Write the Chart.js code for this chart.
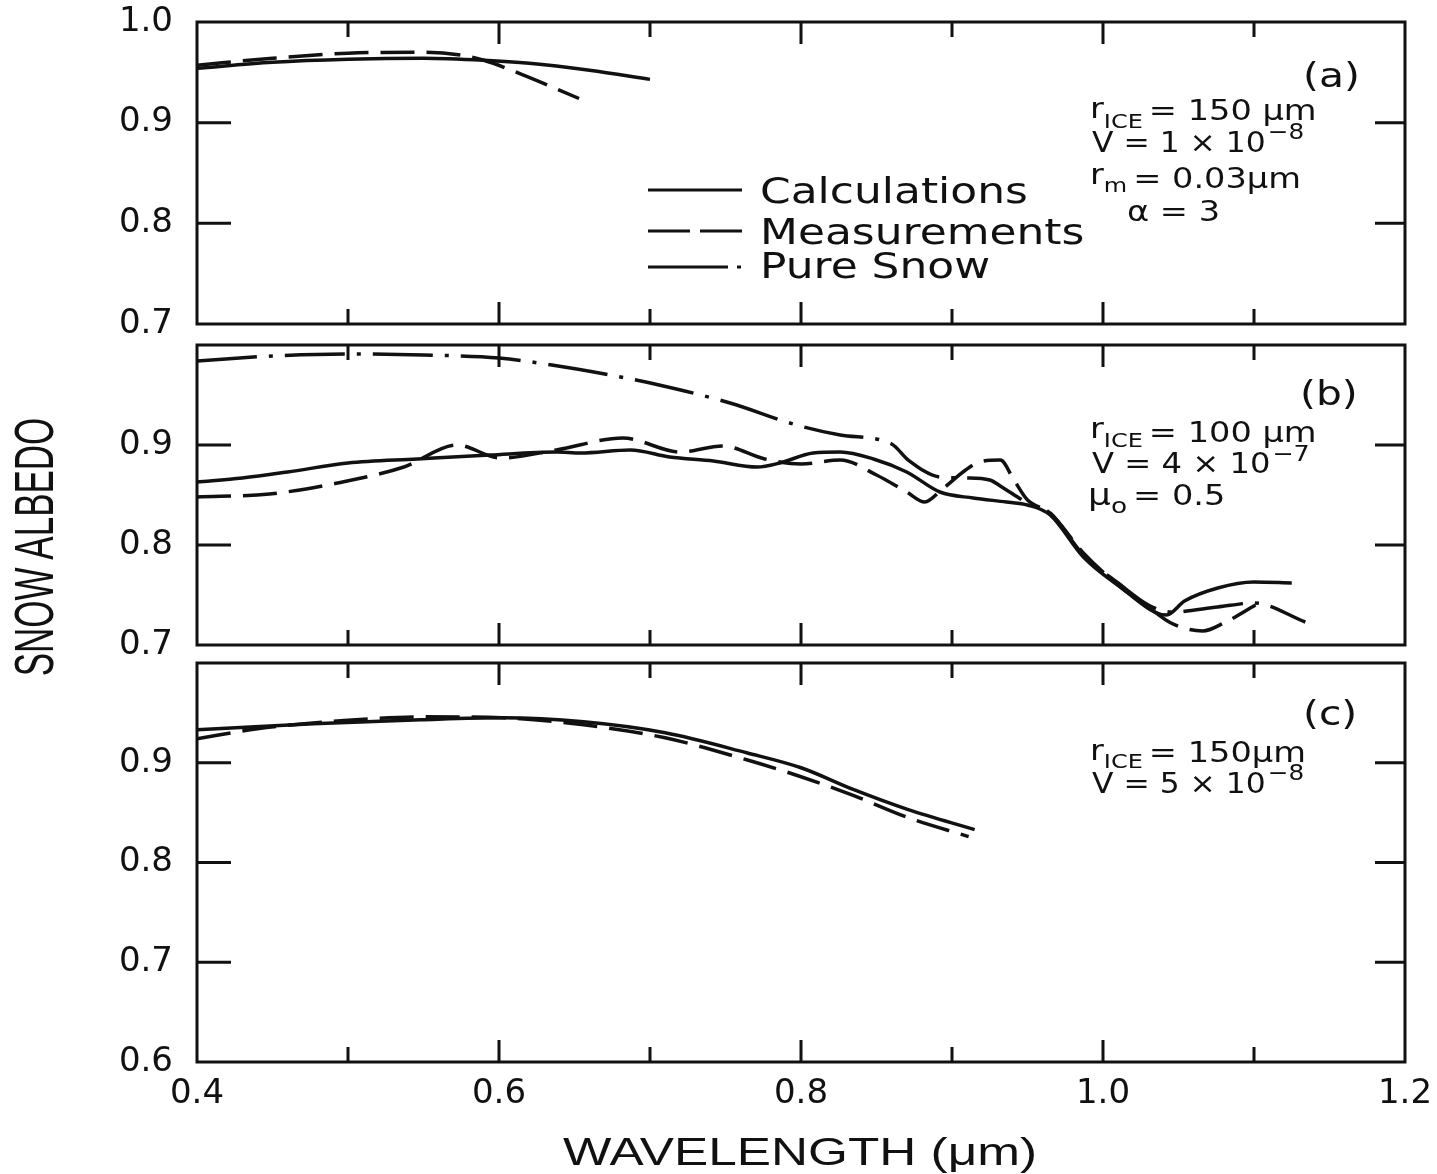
<!DOCTYPE html>
<html>
<head>
<meta charset="utf-8">
<script src="https://cdn.jsdelivr.net/npm/chart.js@4"></script>
<style>
  body { margin: 0; background: #fff; width: 1437px; height: 1174px; position: relative; overflow: hidden; }
  .panel { position: absolute; left: 0; width: 1437px; }
  #ytitle { position: absolute; left: -108px; top: 522px; width: 300px; height: 50px; line-height: 50px;
            text-align: center; font: 35px "Liberation Sans"; color: #111; transform: rotate(-90deg) scale(1, 1.6); }
</style>
</head>
<body>
<div class="panel" style="top:0;height:340px"><canvas id="chartA"></canvas></div>
<div class="panel" style="top:340px;height:322px"><canvas id="chartB"></canvas></div>
<div class="panel" style="top:660px;height:514px"><canvas id="chartC"></canvas></div>
<div id="ytitle">SNOW ALBEDO</div>
<script>
// --- data (wavelength in µm, albedo) ---
// panel (a)
const waveA_calc = [0.4, 0.45, 0.5, 0.55, 0.59, 0.62, 0.66, 0.7];
const calcA      = [0.954, 0.960, 0.963, 0.964, 0.962, 0.959, 0.952, 0.943];
const waveA_meas = [0.4, 0.45, 0.5, 0.55, 0.575, 0.59, 0.615, 0.653];
const measA      = [0.957, 0.964, 0.969, 0.970, 0.967, 0.962, 0.948, 0.924];

// panel (b)
const waveB_calc = [0.4, 0.43, 0.46, 0.5, 0.546, 0.594, 0.638, 0.654, 0.687, 0.713, 0.742, 0.771, 0.786, 0.808, 0.826,
                    0.848, 0.87, 0.892, 0.914, 0.936, 0.95, 0.965, 0.987, 1.014, 1.034, 1.042, 1.054, 1.076, 1.1, 1.125];
const calcB      = [0.863, 0.867, 0.873, 0.882, 0.886, 0.890, 0.893, 0.892, 0.895, 0.888, 0.884, 0.878, 0.882, 0.892, 0.893,
                    0.886, 0.873, 0.853, 0.847, 0.843, 0.840, 0.830, 0.788, 0.755, 0.733, 0.730, 0.744, 0.757, 0.763, 0.762];
const waveB_meas = [0.4, 0.448, 0.493, 0.537, 0.572, 0.601, 0.638, 0.682, 0.72, 0.748, 0.776, 0.8, 0.826, 0.85, 0.87,
                    0.882, 0.893, 0.909, 0.918, 0.932, 0.941, 0.95, 0.965, 0.987, 1.01, 1.03, 1.045, 1.066, 1.08, 1.101];
const measB      = [0.848, 0.851, 0.862, 0.878, 0.900, 0.887, 0.895, 0.907, 0.893, 0.899, 0.886, 0.881, 0.885, 0.870, 0.853,
                    0.843, 0.855, 0.875, 0.883, 0.885, 0.865, 0.845, 0.832, 0.792, 0.760, 0.738, 0.722, 0.714, 0.722, 0.740];
const waveB_pure = [0.4, 0.45, 0.5, 0.55, 0.6, 0.635, 0.67, 0.706, 0.753, 0.797, 0.826, 0.86, 0.871, 0.892, 0.91, 0.925,
                    0.933, 0.95, 0.965, 0.987, 1.01, 1.03, 1.045, 1.076, 1.1, 1.134];
const pureB      = [0.984, 0.989, 0.991, 0.990, 0.987, 0.980, 0.971, 0.960, 0.942, 0.920, 0.910, 0.901, 0.885, 0.868, 0.867, 0.865,
                    0.858, 0.842, 0.832, 0.790, 0.762, 0.740, 0.733, 0.738, 0.742, 0.723];

// panel (c)
const waveC_calc = [0.4, 0.477, 0.548, 0.602, 0.656, 0.71, 0.764, 0.8, 0.835, 0.871, 0.915];
const calcC      = [0.933, 0.939, 0.943, 0.945, 0.941, 0.930, 0.910, 0.895, 0.873, 0.853, 0.833];
const waveC_meas = [0.4, 0.44, 0.495, 0.548, 0.602, 0.656, 0.71, 0.764, 0.8, 0.835, 0.871, 0.911];
const measC      = [0.924, 0.934, 0.942, 0.946, 0.945, 0.938, 0.925, 0.903, 0.886, 0.867, 0.845, 0.826];

// inner tick marks
const xTickMarks  = [0.5, 0.6, 0.7, 0.8, 0.9, 1.0, 1.1];
const yTickMarksA = [0.8, 0.9];
const yTickMarksC = [0.7, 0.8, 0.9];

const INK = '#111';
const SOLID = [];
const DASHED = [34, 12];
const DASHDOT = [60, 12, 4, 12];

function series(xs, ys, dash) {
  return {
    data: xs.map((x, i) => ({ x: x, y: ys[i] })),
    borderColor: INK, borderWidth: 3.5, borderDash: dash, borderCapStyle: 'butt',
    pointRadius: 0, fill: false, cubicInterpolationMode: 'monotone'
  };
}

// text with a horizontal stretch (the scan is wider than tall)
function stretched(ctx, s, x, y, size, sx, family) {
  ctx.save();
  ctx.font = size + 'px ' + (family || '"DejaVu Sans"');
  ctx.translate(x, y);
  ctx.scale(sx, 1);
  ctx.fillText(s, 0, 0);
  const w = ctx.measureText(s).width * sx;
  ctx.restore();
  return x + w;
}
// parts: [text, size, baseline, gap after]
function rich(ctx, x, parts, sx) {
  parts.forEach(p => { x = stretched(ctx, p[0], x, p[2], p[1], sx) + (p[3] || 0); });
}

// no label overhang padding, so the plot box sits exactly where it should
function noPad(s) { s.paddingTop = 0; s.paddingBottom = 0; s.paddingLeft = 0; s.paddingRight = 0; }

function framePlugin(yMarks, extra) {
  return {
    id: 'frame',
    afterDraw(chart) {
      const { ctx, chartArea: a, scales } = chart;
      ctx.save();
      ctx.strokeStyle = INK;
      ctx.lineWidth = 3;
      ctx.setLineDash([]);
      ctx.strokeRect(a.left, a.top, a.width, a.height);
      ctx.beginPath();
      xTickMarks.forEach(v => {
        const px = scales.x.getPixelForValue(v);
        const len = Math.round(v * 10) % 2 === 0 ? 22 : 15;
        ctx.moveTo(px, a.top); ctx.lineTo(px, a.top + len);
        ctx.moveTo(px, a.bottom); ctx.lineTo(px, a.bottom - len);
      });
      yMarks.forEach(v => {
        const py = scales.y.getPixelForValue(v);
        ctx.moveTo(a.left, py); ctx.lineTo(a.left + 34, py);
        ctx.moveTo(a.right, py); ctx.lineTo(a.right - 30, py);
      });
      ctx.stroke();
      ctx.fillStyle = INK;
      ctx.textBaseline = 'alphabetic';
      if (extra) extra(ctx, chart);
      ctx.restore();
    }
  };
}

function makeChart(id, datasets, opt) {
  return new Chart(document.getElementById(id), {
    type: 'line',
    data: { datasets: datasets },
    options: {
      responsive: true, maintainAspectRatio: false, animation: false,
      layout: { padding: { left: 0, right: 32, top: opt.top, bottom: 0 } },
      plugins: { legend: { display: false }, tooltip: { enabled: false } },
      scales: {
        x: {
          type: 'linear', min: 0.4, max: 1.2,
          grid: { display: false, drawTicks: false }, border: { display: false },
          ticks: {
            display: opt.showX, stepSize: 0.2, padding: 12, autoSkip: false, maxRotation: 0,
            color: INK, font: { family: 'DejaVu Sans', size: 34 },
            callback: v => v.toFixed(1)
          },
          afterFit: s => { s.height = opt.xh; noPad(s); }
        },
        y: {
          min: opt.ymin, max: 1.0,
          grid: { display: false, drawTicks: false }, border: { display: false },
          ticks: {
            stepSize: 0.1, padding: 24, color: INK, font: { family: 'DejaVu Sans', size: 34 },
            callback: v => (opt.hideTop && v > 0.999) ? '' : v.toFixed(1)
          },
          afterFit: s => { s.width = 197; noPad(s); }
        }
      }
    },
    plugins: [framePlugin(opt.yMarks, opt.extra)]
  });
}

// (a)
makeChart('chartA', [
  series(waveA_calc, calcA, SOLID),
  series(waveA_meas, measA, DASHED)
], {
  top: 22, xh: 16, ymin: 0.7, showX: false, hideTop: false, yMarks: yTickMarksA,
  extra(ctx) {
    // legend
    ctx.lineWidth = 3;
    ctx.beginPath(); ctx.setLineDash([]); ctx.moveTo(648, 190); ctx.lineTo(742, 190); ctx.stroke();
    ctx.beginPath(); ctx.setLineDash([42, 10]); ctx.moveTo(648, 231); ctx.lineTo(742, 231); ctx.stroke();
    ctx.beginPath(); ctx.setLineDash([80, 9, 4, 20]); ctx.moveTo(648, 267); ctx.lineTo(745, 267); ctx.stroke();
    ctx.setLineDash([]);
    stretched(ctx, 'Calculations', 760, 203, 36, 1.22);
    stretched(ctx, 'Measurements', 760, 244, 36, 1.22);
    stretched(ctx, 'Pure Snow', 760, 278, 36, 1.22);
    // panel label and parameters
    stretched(ctx, '(a)', 1303, 87, 34, 1.2);
    rich(ctx, 1090, [['r', 28, 118], ['ICE', 20, 128, 6], ['= 150 μm', 28, 120]], 1.2);
    rich(ctx, 1092, [['V = 1 × 10', 28, 152, 2], ['−8', 22, 139]], 1.12);
    rich(ctx, 1090, [['r', 28, 184], ['m', 20, 192, 6], ['= 0.03μm', 28, 188]], 1.2);
    stretched(ctx, 'α = 3', 1127, 221, 28, 1.2);
  }
});

// (b)
makeChart('chartB', [
  series(waveB_calc, calcB, SOLID),
  series(waveB_meas, measB, DASHED),
  series(waveB_pure, pureB, DASHDOT)
], {
  top: 5, xh: 17, ymin: 0.7, showX: false, hideTop: true, yMarks: yTickMarksA,
  extra(ctx) {
    stretched(ctx, '(b)', 1300, 65, 34, 1.2);
    rich(ctx, 1090, [['r', 28, 98], ['ICE', 20, 107, 6], ['= 100 μm', 28, 102]], 1.2);
    rich(ctx, 1092, [['V = 4 × 10', 28, 133, 2], ['−7', 22, 121]], 1.15);
    rich(ctx, 1088, [['μ', 30, 165], ['o', 22, 173, 6], ['= 0.5', 28, 165]], 1.2);
  }
});

// (c)
makeChart('chartC', [
  series(waveC_calc, calcC, SOLID),
  series(waveC_meas, measC, DASHED)
], {
  top: 3, xh: 112, ymin: 0.6, showX: true, hideTop: true, yMarks: yTickMarksC,
  extra(ctx) {
    stretched(ctx, '(c)', 1303, 65, 34, 1.2);
    rich(ctx, 1090, [['r', 28, 100], ['ICE', 20, 108, 6], ['= 150μm', 28, 102]], 1.2);
    rich(ctx, 1092, [['V = 5 × 10', 28, 133, 2], ['−8', 22, 120]], 1.12);
    // x axis title
    const t = 'WAVELENGTH (μm)';
    ctx.font = '38px "Liberation Sans"';
    const w = ctx.measureText(t).width * 1.35;
    stretched(ctx, t, 800 - w / 2, 505, 38, 1.35, '"Liberation Sans"');
  }
});
</script>
</body>
</html>
